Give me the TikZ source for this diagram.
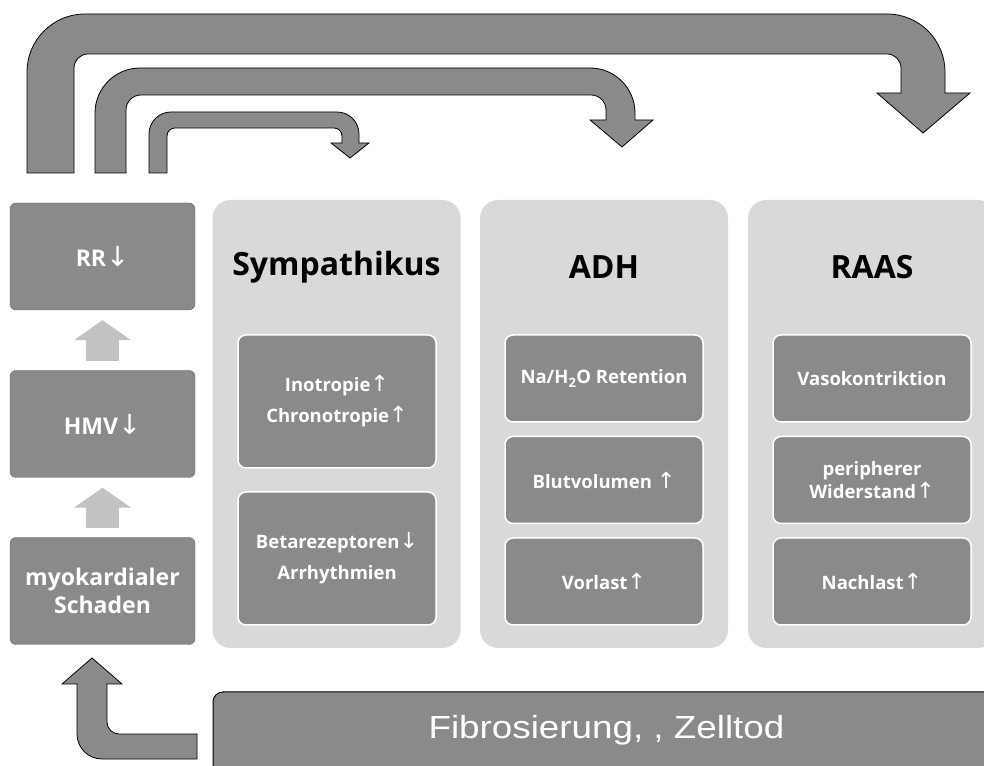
\documentclass[tikz,border=0pt]{standalone}
\usepackage{fontspec}
\setmainfont{Open Sans}
\newfontfamily\pfeilfont{DejaVu Sans}
\newfontfamily\fibfont{Liberation Sans}[FakeStretch=1.15]
\usetikzlibrary{arrows.meta}
\newcommand{\hoch}{{\pfeilfont\mdseries\scalebox{1.2}{\char"2191}}}
\newcommand{\runter}{{\pfeilfont\mdseries\scalebox{1.2}{\char"2193}}}

\begin{document}
\begin{tikzpicture}[x=1pt, y=1pt,
	links/.style={fill=dunkel, draw=black!60, rounded corners=6pt, minimum width=185pt, minimum height=107pt, text=white, align=center, font=\bfseries\fontsize{23}{28}\selectfont},
	saeule/.style={fill=hell, rounded corners=18pt, minimum width=248pt, minimum height=448pt},
	titel/.style={font=\bfseries\fontsize{32}{36}\selectfont},
	kasten/.style={fill=dunkel, draw=white, line width=1.5pt, rounded corners=8pt, minimum width=198pt, text=white, align=center, font=\bfseries\fontsize{18.5}{23}\selectfont},
	hellpfeil/.style={draw=pfeil, line width=33pt, -{Triangle[length=20pt,width=56pt]}, shorten <=9pt, shorten >=10pt},
	blockpfeil/.style={fill=dunkel, draw=black, line width=0.8pt, line join=miter}]
		\useasboundingbox (0,0) rectangle (984,765);
		\clip (0,0) rectangle (984,765);
		
		\definecolor{dunkel}{gray}{0.54}
		\definecolor{hell}{gray}{0.85}
		\definecolor{pfeil}{gray}{0.76}
		
		% left column
		\node[links] (rr) at (102.5,508.5) {RR\runter};
		\node[links] (hmv) at (102.5,341) {HMV\runter};
		\node[links] (myo) at (102.5,174) {myokardialer\\Schaden};
		\draw[hellpfeil] (myo.north) -- (hmv.south);
		\draw[hellpfeil] (hmv.north) -- (rr.south);
		
		% columns
		\node[saeule] (symp) at (336.5,341) {};
		\node[saeule] (adh) at (604,341) {};
		\node[saeule] (raas) at (872,341) {};
		\node[titel] (symptitel) at (336.5,498) {Sympathikus};
		\node[titel] (adhtitel) at (604,498) {ADH};
		\node[titel] (raastitel) at (872,498) {RAAS};
		
		% Sympathikus elements
		\node[kasten, minimum height=133pt, font=\bfseries\fontsize{18.5}{31}\selectfont] (ino) at (337,363.5) {Inotropie\hoch\\Chronotropie\hoch};
		\node[kasten, minimum height=133pt, font=\bfseries\fontsize{18.5}{31}\selectfont] (beta) at (337,206.5) {Betarezeptoren\runter\\Arrhythmien};
		
		% ADH elements
		\node[kasten, minimum height=87pt] (na) at (604,386.5) {Na/H\textsubscript{2}O Retention};
		\node[kasten, minimum height=87pt] (blut) at (604,285) {Blutvolumen \hoch};
		\node[kasten, minimum height=87pt] (vor) at (604,183.5) {Vorlast\hoch};
		
		% RAAS elements
		\node[kasten, minimum height=87pt] (vaso) at (872,386.5) {Vasokontriktion};
		\node[kasten, minimum height=87pt] (wid) at (872,285) {peripherer\\Widerstand\hoch};
		\node[kasten, minimum height=87pt] (nach) at (872,183.5) {Nachlast\hoch};
		
		% bottom
		\node[fill=dunkel, draw=black, line width=1pt, rounded corners=10pt, minimum width=787pt, text height=22pt, text depth=30pt, inner ysep=24pt, text=white, font=\fibfont\fontsize{32}{36}\selectfont, anchor=base] (fib) at (606.5,27) {Fibrosierung, , Zelltod};
		\filldraw[blockpfeil] (197,6) -- (102,6) arc (270:180:25) -- (77,81) -- (62,81) -- (92,107) -- (122,81) -- (107,81) -- (107,43) arc (180:270:12) -- (197,31) -- cycle;
		
		% top arrows
		\filldraw[blockpfeil] (27,592) -- (27,693) arc (180:90:58) -- (887,751) arc (90:0:58) -- (945,672) -- (970,672) -- (923,632) -- (877,672) -- (901,672) -- (901,697) arc (0:90:14) -- (88,711) arc (90:180:14) -- (74,592) -- cycle;
		\filldraw[blockpfeil] (95,592) -- (95,652) arc (180:90:45) -- (590,697) arc (90:0:45) -- (635,645) -- (653,645) -- (622,618) -- (590,645) -- (606,645) -- (606,655) arc (0:90:15) -- (141,670) arc (90:180:15) -- (126,592) -- cycle;
		\filldraw[blockpfeil] (149,592) -- (149,631) arc (180:90:22) -- (337,653) arc (90:0:22) -- (359,622) -- (369,622) -- (350,607) -- (331,622) -- (342,622) -- (342,629) arc (0:90:8) -- (175,637) arc (90:180:8) -- (167,592) -- cycle;
	\end{tikzpicture}
\end{document}
